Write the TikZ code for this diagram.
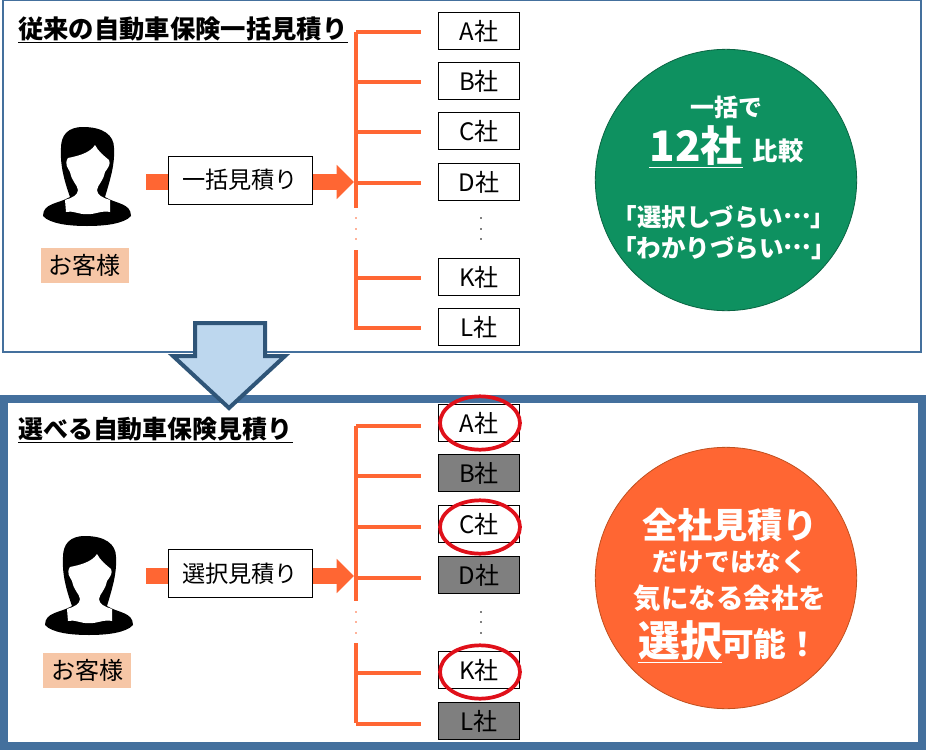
\documentclass[tikz,border=0pt]{standalone}
\usepackage{fontspec}
\setmainfont{Noto Sans CJK JP}
\usetikzlibrary{arrows.meta}
\definecolor{FrameBlue}{HTML}{44709D}
\definecolor{ArrowBlue}{HTML}{BDD7EE}
\definecolor{ArrowEdge}{HTML}{2F5578}
\definecolor{LineOrange}{HTML}{FF6633}
\definecolor{LabelPeach}{HTML}{F6C6A6}
\definecolor{ChipGray}{HTML}{7F7F7F}
\definecolor{CircleGreen}{HTML}{0E9160}
\definecolor{CircleEdge}{HTML}{C0501F}
\definecolor{RingRed}{HTML}{E0101A}
\newcommand{\fsz}[1]{\fontsize{#1}{#1}\selectfont}
\newcommand{\midell}{\raisebox{.32em}{…}}
\tikzset{
  company/.style={draw=black,fill=white,line width=.75pt,minimum width=61pt,minimum height=27.5pt,inner sep=0pt,font=\fsz{18}},
  dropped/.style={company,fill=ChipGray},
  quote/.style={draw=black,fill=white,line width=.75pt,minimum width=108pt,minimum height=36pt,inner sep=0pt,font=\fsz{17.4}},
  custlabel/.style={fill=LabelPeach,minimum width=66pt,minimum height=26pt,inner sep=0pt,font=\fsz{18}},
  headline/.style={anchor=west,inner sep=0pt,font=\fsz{19}\bfseries},
  onround/.style={text=white,inner sep=0pt,font=\bfseries},
  branch/.style={LineOrange,line width=2.6pt},
  flow/.style={LineOrange,line width=12pt,-{Triangle[length=13pt,width=25pt]}},
  person/.pic={
    \fill[black] (83,127) .. controls (68,127) and (61,135) .. (61,148)
      .. controls (60,165) and (64,180) .. (70,197)
      .. controls (58,204) and (43,203) .. (43,216)
      .. controls (50,224) and (70,226) .. (87,226)
      .. controls (104,226) and (124,224) .. (131,216)
      .. controls (131,203) and (116,204) .. (105,197)
      .. controls (110,180) and (115,165) .. (114,148)
      .. controls (114,135) and (103,127) .. (83,127) -- cycle;
    \fill[white] (95,145) .. controls (90,153) and (78,156) .. (68,158)
      .. controls (64,164) and (68,168) .. (70,172)
      .. controls (72,182) and (77,184) .. (78,190)
      .. controls (78,195) and (72,198) .. (65,200) -- (66,212)
      .. controls (72,210) and (80,215) .. (87,214)
      .. controls (94,215) and (102,210) .. (110,212) -- (110,200)
      .. controls (103,198) and (97,195) .. (97,190)
      .. controls (98,184) and (103,182) .. (105,172)
      .. controls (108,168) and (111,164) .. (109,160)
      .. controls (104,156) and (98,151) .. (95,145) -- cycle;
  }
}
\begin{document}
\begin{tikzpicture}[x=.75pt,y=-.75pt]
\useasboundingbox (0,0) rectangle (926,750);
\fill[white] (0,0) rectangle (926,750);
% upper panel
\draw[FrameBlue,line width=.9pt] (3,0.5) rectangle (921,352);
\node[headline] (title1) at (18,30) {\underline{従来の自動車保険一括見積り}};
\pic at (0,0) {person};
\node[custlabel] (cust1) at (84.5,265.5) {お客様};
\coordinate (from1) at (146,182);
\coordinate (to1) at (354,182);
\draw[flow] (from1) -- (to1);
\node[quote] (quote1) at (240,180) {一括見積り};
\coordinate (top1) at (356,32);
\coordinate (cut1) at (356,208);
\coordinate (low1) at (356,250);
\coordinate (end1) at (356,330);
\draw[branch] (top1) -- (cut1);
\draw[branch] (low1) -- (end1);
\foreach \n/\lab/\y in {a/A/31,b/B/81,c/C/131,d/D/182,k/K/277,l/L/327}{
  \node[company] (up\n) at (479,\y) {\lab 社};
  \coordinate (upt\n) at (356,\y+1);
  \coordinate (upe\n) at (421,\y+1);
  \draw[branch] (upt\n) -- (upe\n);
}
\foreach \y in {218,229,239}{
  \fill[LineOrange] (356,\y) circle (.6pt);
  \fill[black] (481,\y) circle (.7pt);
}
\node[circle,fill=CircleGreen,draw=CircleGreen!70!black,line width=.6pt,minimum size=196pt,inner sep=0pt] (round1) at (726,180) {};
\node[onround,font=\fsz{18}\bfseries] (once) at (726,107) {一括で};
\node[onround,font=\fsz{31.5}\bfseries] (twelve) at (696,147) {\underline{12社}};
\node[onround,font=\fsz{19}\bfseries] (compare) at (778,151) {比較};
\node[onround,font=\fsz{18.4}\bfseries] (hard1) at (724,217) {「選択しづらい\midell 」};
\node[onround,font=\fsz{18.4}\bfseries] (hard2) at (724,248) {「わかりづらい\midell 」};
% lower panel
\draw[FrameBlue,line width=6pt] (4,399) rectangle (922,746);
\node[headline,font=\fsz{18.7}\bfseries] (title2) at (18,430) {\underline{選べる自動車保険見積り}};
\pic at (2,409) {person};
\node[custlabel] (cust2) at (87,670.5) {お客様};
\coordinate (from2) at (146,576);
\coordinate (to2) at (354,576);
\draw[flow] (from2) -- (to2);
\node[quote] (quote2) at (240,573.5) {選択見積り};
\coordinate (top2) at (356,426);
\coordinate (cut2) at (356,601);
\coordinate (low2) at (356,643);
\coordinate (end2) at (356,723);
\draw[branch] (top2) -- (cut2);
\draw[branch] (low2) -- (end2);
\foreach \n/\lab/\y/\sty in {a/A/423/company,b/B/473/dropped,c/C/524/company,d/D/575/dropped,k/K/670/company,l/L/721/dropped}{
  \node[\sty] (lo\n) at (479,\y) {\lab 社};
  \coordinate (lot\n) at (356,\y+3);
  \coordinate (loe\n) at (421,\y+3);
  \draw[branch] (lot\n) -- (loe\n);
}
\foreach \y in {612,622,633}{
  \fill[LineOrange] (356,\y) circle (.6pt);
  \fill[black] (481,\y) circle (.7pt);
}
\foreach \y in {423,527,672}{
  \draw[RingRed,line width=2.8pt] (480,\y) ellipse[x radius=30pt,y radius=20pt];
}
\node[circle,fill=LineOrange,draw=CircleEdge,line width=.6pt,minimum size=196pt,inner sep=0pt] (round2) at (726,578) {};
\node[onround,font=\fsz{26.4}\bfseries] (all) at (730,525) {全社見積り};
\node[onround,font=\fsz{19.3}\bfseries] (notonly) at (730,562) {だけではなく};
\node[onround,font=\fsz{20.6}\bfseries] (care) at (730,598) {気になる会社を};
\node[onround,font=\fsz{31.5}\bfseries] (pick) at (680,642) {\underline{選択}};
\node[onround,font=\fsz{24.5}\bfseries] (can) at (770,644) {可能！};
% transition arrow
\draw[ArrowEdge,fill=ArrowBlue,line width=3pt,line join=miter] (195,323) -- (265,323) -- (265,356) -- (285,356) -- (229,408) -- (173,356) -- (195,356) -- cycle;
\end{tikzpicture}
\end{document}
